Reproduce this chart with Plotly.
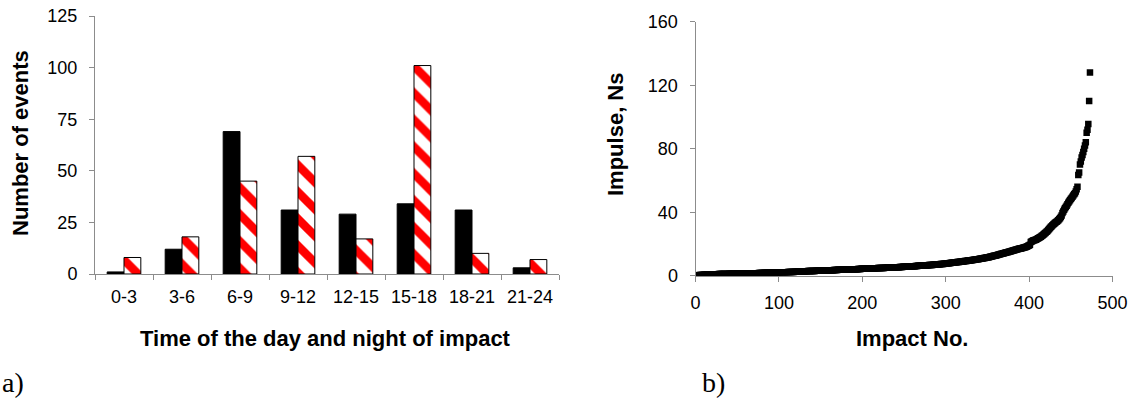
import plotly.graph_objects as go

# ---- data: panel a ----
time_bins = ["0-3", "3-6", "6-9", "9-12", "12-15", "15-18", "18-21", "21-24"]
events_black = [1, 12, 69, 31, 29, 34, 31, 3]
events_hatched = [8, 18, 45, 57, 17, 101, 10, 7]

# ---- data: panel b (sorted impulses, Ns) ----
impulse = [
    0.1, 0.2, 0.3, 0.3, 0.4, 0.4, 0.5, 0.5, 0.5, 0.6,
    0.6, 0.6, 0.6, 0.7, 0.7, 0.7, 0.7, 0.8, 0.8, 0.8,
    0.8, 0.8, 0.9, 0.9, 0.9, 0.9, 0.9, 1.0, 1.0, 1.0,
    1.0, 1.0, 1.0, 1.1, 1.1, 1.1, 1.1, 1.1, 1.1, 1.2,
    1.2, 1.2, 1.2, 1.2, 1.2, 1.2, 1.3, 1.3, 1.3, 1.3,
    1.3, 1.3, 1.3, 1.4, 1.4, 1.4, 1.4, 1.4, 1.4, 1.4,
    1.5, 1.5, 1.5, 1.5, 1.5, 1.5, 1.5, 1.6, 1.6, 1.6,
    1.6, 1.6, 1.6, 1.6, 1.6, 1.7, 1.7, 1.7, 1.7, 1.7,
    1.7, 1.7, 1.8, 1.8, 1.8, 1.8, 1.8, 1.8, 1.8, 1.9,
    1.9, 1.9, 1.9, 1.9, 1.9, 2.0, 2.0, 2.0, 2.0, 2.0,
    2.0, 2.1, 2.1, 2.1, 2.1, 2.1, 2.2, 2.2, 2.2, 2.2,
    2.3, 2.3, 2.3, 2.3, 2.4, 2.4, 2.4, 2.4, 2.5, 2.5,
    2.5, 2.5, 2.6, 2.6, 2.6, 2.6, 2.7, 2.7, 2.7, 2.7,
    2.8, 2.8, 2.8, 2.8, 2.9, 2.9, 2.9, 2.9, 3.0, 3.0,
    3.0, 3.0, 3.0, 3.1, 3.1, 3.1, 3.1, 3.2, 3.2, 3.2,
    3.2, 3.3, 3.3, 3.3, 3.3, 3.3, 3.4, 3.4, 3.4, 3.4,
    3.5, 3.5, 3.5, 3.5, 3.5, 3.6, 3.6, 3.6, 3.6, 3.6,
    3.7, 3.7, 3.7, 3.7, 3.7, 3.8, 3.8, 3.8, 3.8, 3.8,
    3.9, 3.9, 3.9, 3.9, 3.9, 4.0, 4.0, 4.0, 4.0, 4.0,
    4.1, 4.1, 4.1, 4.1, 4.2, 4.2, 4.2, 4.2, 4.3, 4.3,
    4.3, 4.3, 4.4, 4.4, 4.4, 4.4, 4.5, 4.5, 4.5, 4.5,
    4.6, 4.6, 4.6, 4.6, 4.7, 4.7, 4.7, 4.7, 4.8, 4.8,
    4.8, 4.8, 4.9, 4.9, 4.9, 4.9, 5.0, 5.0, 5.0, 5.0,
    5.1, 5.1, 5.1, 5.1, 5.2, 5.2, 5.2, 5.2, 5.3, 5.3,
    5.3, 5.4, 5.4, 5.4, 5.5, 5.5, 5.5, 5.5, 5.6, 5.6,
    5.6, 5.7, 5.7, 5.7, 5.8, 5.8, 5.8, 5.9, 5.9, 5.9,
    6.0, 6.0, 6.0, 6.1, 6.1, 6.1, 6.2, 6.2, 6.2, 6.3,
    6.3, 6.3, 6.4, 6.4, 6.5, 6.5, 6.5, 6.6, 6.6, 6.7,
    6.7, 6.7, 6.8, 6.8, 6.9, 6.9, 7.0, 7.0, 7.0, 7.1,
    7.1, 7.2, 7.2, 7.3, 7.3, 7.4, 7.4, 7.5, 7.5, 7.6,
    7.7, 7.8, 7.8, 7.9, 8.0, 8.0, 8.1, 8.2, 8.2, 8.3,
    8.4, 8.4, 8.5, 8.6, 8.6, 8.7, 8.8, 8.8, 8.9, 9.0,
    9.0, 9.1, 9.2, 9.2, 9.3, 9.4, 9.5, 9.5, 9.6, 9.7,
    9.8, 9.9, 9.9, 10.0, 10.1, 10.2, 10.3, 10.3, 10.4, 10.5,
    10.6, 10.7, 10.8, 10.9, 11.0, 11.1, 11.2, 11.3, 11.4, 11.5,
    11.6, 11.7, 11.9, 12.0, 12.1, 12.2, 12.4, 12.5, 12.6, 12.8,
    12.9, 13.0, 13.2, 13.3, 13.5, 13.6, 13.8, 13.9, 14.1, 14.2,
    14.4, 14.5, 14.7, 14.8, 15.0, 15.1, 15.3, 15.4, 15.6, 15.7,
    15.9, 16.0, 16.2, 16.3, 16.5, 16.6, 16.8, 16.9, 17.1, 17.2,
    17.3, 17.5, 17.6, 17.8, 17.9, 18.1, 18.3, 18.5, 18.8, 19.1,
    19.5, 21.3, 21.6, 21.9, 22.1, 22.3, 22.5, 22.7, 23.0, 23.3,
    23.6, 23.9, 24.2, 24.6, 25.0, 25.4, 25.8, 26.2, 26.7, 27.2,
    27.7, 28.2, 28.8, 29.4, 30.0, 30.6, 31.2, 31.8, 32.3, 32.8,
    33.2, 33.6, 34.0, 34.5, 35.0, 35.6, 36.2, 37.0, 38.0, 39.5,
    40.5, 41.5, 42.5, 43.3, 44.0, 45.0, 46.0, 46.8, 47.5, 48.3,
    49.0, 49.8, 50.5, 51.3, 52.0, 53.0, 54.5, 56.0, 63.5, 65.0,
    70.0, 72.0, 74.5, 76.0, 78.0, 80.0, 82.0, 84.0, 90.0, 92.0,
    95.5, 110.0, 128.0,
]
impact_no = list(range(1, len(impulse) + 1))

W, H = 1135, 400
AX = "#8c8c8c"
FONT = "Liberation Sans, Arial, sans-serif"
SERIF = "Liberation Serif, Times New Roman, serif"

fig = go.Figure()

fig.add_trace(go.Bar(
    x=time_bins, y=events_black, xaxis="x", yaxis="y",
    marker=dict(color="black", line=dict(color="black", width=1)),
    showlegend=False,
))
fig.add_trace(go.Bar(
    x=time_bins, y=events_hatched, xaxis="x", yaxis="y",
    marker=dict(color="white", line=dict(color="black", width=1),
                pattern=dict(shape="\\", fgcolor="#ff0000", bgcolor="white",
                             fgopacity=1, size=19, solidity=0.45)),
    showlegend=False,
))
fig.add_trace(go.Scatter(
    x=impact_no, y=impulse, xaxis="x2", yaxis="y2", mode="markers",
    marker=dict(symbol="square", size=6.5, color="black", line=dict(width=0)),
    showlegend=False,
))

tickfont = dict(family=FONT, size=18, color="black")
common = dict(showline=True, linecolor=AX, linewidth=1, ticks="outside",
              tickcolor=AX, ticklen=5, tickwidth=1, showgrid=False,
              zeroline=False, tickfont=tickfont, automargin=False)

fig.update_layout(
    template="none",
    width=W, height=H,
    margin=dict(l=0, r=0, t=0, b=0, autoexpand=False),
    paper_bgcolor="white", plot_bgcolor="white",
    barmode="group", bargap=0.42, bargroupgap=0,
    xaxis=dict(domain=[95 / W, 559 / W], anchor="y", type="category",
               tickson="boundaries", range=[-0.5, 7.5],
               ticklabelstandoff=6, **common),
    yaxis=dict(domain=[1 - 274 / H, 1 - 16 / H], anchor="x",
               range=[0, 125], dtick=25, ticklabelstandoff=8, **common),
    xaxis2=dict(domain=[695.5 / W, 1112.5 / W], anchor="y2",
                range=[0, 500], dtick=100, ticklabelstandoff=6, **common),
    yaxis2=dict(domain=[1 - 275.7 / H, 1 - 21.7 / H], anchor="x2",
                range=[0, 160], dtick=40, ticklabelstandoff=8, **common),
)

title_font = dict(family=FONT, size=22, color="black", weight="bold")
ann = [
    dict(text="Number of events", x=21 / W, y=1 - 143 / H, textangle=-90),
    dict(text="Time of the day and night of impact", x=325 / W, y=1 - 338 / H),
    dict(text="Impulse, Ns", x=615 / W, y=1 - 135 / H, textangle=-90),
    dict(text="Impact No.", x=912 / W, y=1 - 338 / H),
]
for a in ann:
    fig.add_annotation(xref="paper", yref="paper", showarrow=False,
                       xanchor="center", yanchor="middle", font=title_font, **a)

label_font = dict(family=SERIF, size=28, color="black")
fig.add_annotation(text="a)", xref="paper", yref="paper", x=0, y=0,
                   xanchor="left", yanchor="bottom", showarrow=False, font=label_font)
fig.add_annotation(text="b)", xref="paper", yref="paper", x=700 / W, y=0,
                   xanchor="left", yanchor="bottom", showarrow=False, font=label_font)

fig.write_html("out.html",
               config={"displayModeBar": False, "staticPlot": True},
               post_script="document.body.style.margin='0';document.body.style.padding='0';")
